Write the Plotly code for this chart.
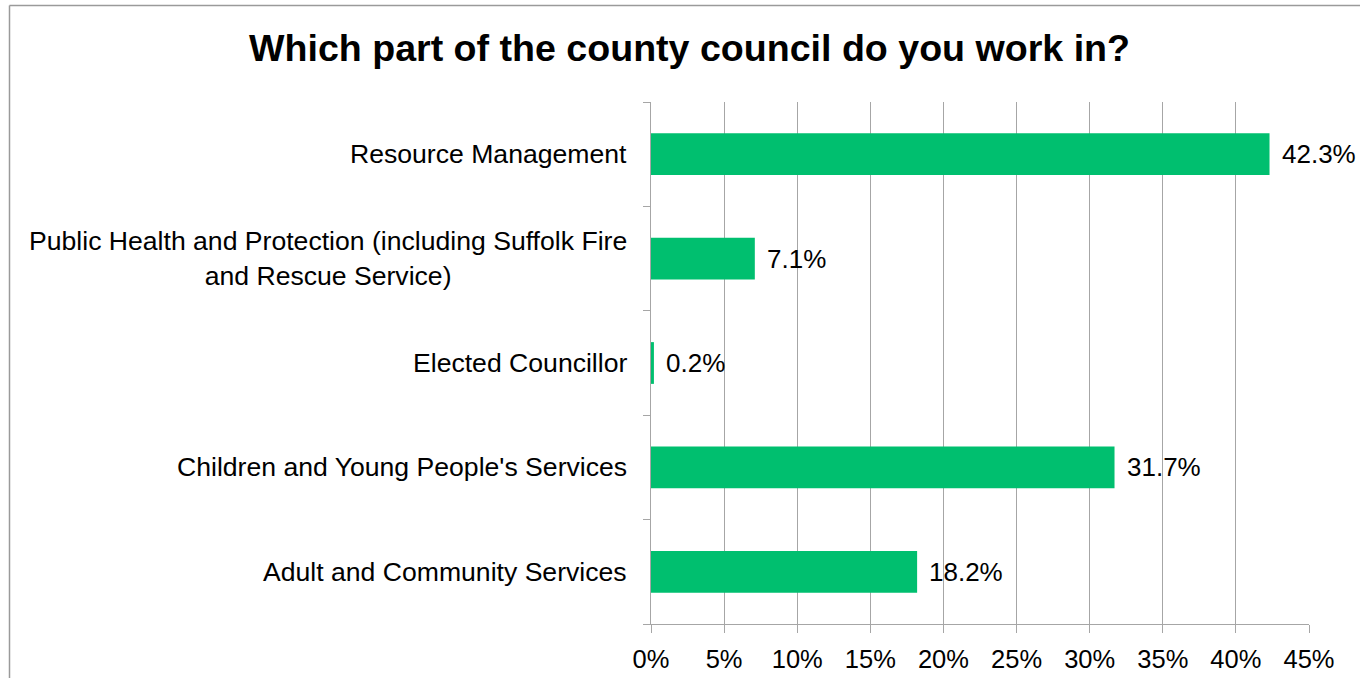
import plotly.graph_objects as go

categories = ["Adult and Community Services",
              "Children and Young People's Services",
              "Elected Councillor",
              "Public Health and Protection (including Suffolk Fire<br>and Rescue Service)",
              "Resource Management"]
values = [18.2, 31.7, 0.2, 7.1, 42.3]
value_labels = ["18.2%", "31.7%", "0.2%", "7.1%", "42.3%"]
x_ticks = [0, 5, 10, 15, 20, 25, 30, 35, 40, 45]
x_tick_text = [f"{t}%" for t in x_ticks]
title = "Which part of the county council do you work in?"

FONT = "Liberation Sans, Arial, sans-serif"
GRID = "#a6a6a6"
pos = list(range(len(categories)))

fig = go.Figure()
fig.add_trace(go.Bar(
    x=values, y=pos, orientation="h", width=0.4,
    marker=dict(color="#00BF6F", line=dict(width=0)),
    hoverinfo="skip",
))

annotations = []
for p, v, lab in zip(pos, values, value_labels):
    annotations.append(dict(x=v, y=p, xref="x", yref="y", text=lab,
                            showarrow=False, xanchor="left", xshift=10,
                            font=dict(family=FONT, size=26, color="black")))
for p, c in zip(pos, categories):
    annotations.append(dict(x=0, y=p, xref="paper", yref="y", text=c,
                            showarrow=False, xanchor="right", xshift=-22,
                            align="center",
                            font=dict(family=FONT, size=26.6, color="black")))

fig.update_layout(
    width=1360, height=678,
    margin=dict(l=651, r=51, t=102, b=54),
    paper_bgcolor="white", plot_bgcolor="white",
    showlegend=False,
    title=dict(text="<b>" + title + "</b>", x=0.507, xanchor="center",
               y=1 - 48 / 678, yanchor="middle",
               font=dict(family=FONT, size=37.6, color="black")),
    annotations=annotations,
    xaxis=dict(range=[0, 45], tickvals=x_ticks, ticktext=x_tick_text,
               showgrid=True, gridcolor=GRID, gridwidth=1,
               showline=True, linecolor=GRID, linewidth=1,
               ticks="outside", ticklen=8, tickcolor=GRID,
               ticklabelstandoff=4, automargin=False,
               zeroline=False, fixedrange=True,
               tickfont=dict(family=FONT, size=25.5, color="black")),
    yaxis=dict(range=[-0.5, len(categories) - 0.5],
               tickvals=[i - 0.5 for i in range(len(categories) + 1)],
               showticklabels=False, showgrid=False,
               showline=True, linecolor=GRID, linewidth=1,
               ticks="outside", ticklen=7, tickcolor=GRID,
               automargin=False,
               zeroline=False, fixedrange=True),
    shapes=[
        dict(type="line", xref="paper", yref="paper",
             x0=(9.5 - 651) / 658, x1=(1360 - 651) / 658,
             y0=1 + (102 - 5.5) / 522, y1=1 + (102 - 5.5) / 522,
             line=dict(color="#9a9a9a", width=1.5)),
        dict(type="line", xref="paper", yref="paper",
             x0=(9.5 - 651) / 658, x1=(9.5 - 651) / 658,
             y0=1 + (102 - 5.5) / 522, y1=-54 / 522,
             line=dict(color="#9a9a9a", width=1.5)),
    ],
)

fig.write_html("out.html")
